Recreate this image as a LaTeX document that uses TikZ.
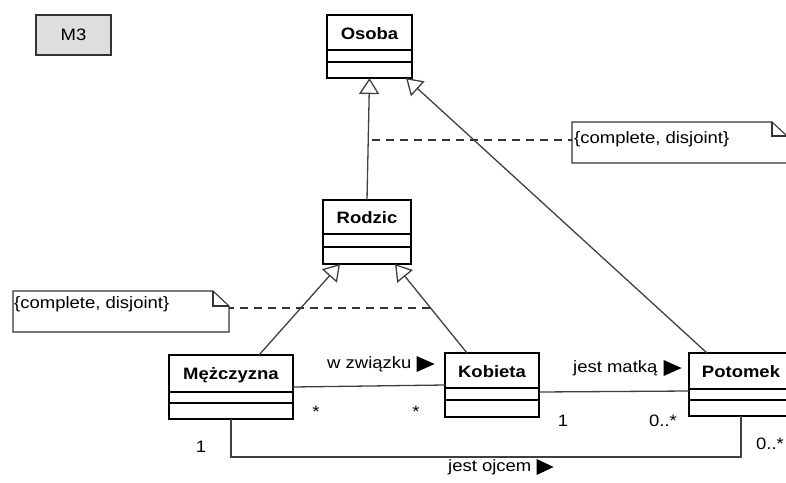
\documentclass[tikz,border=0pt]{standalone}
\usepackage{fontspec}
\setmainfont{Liberation Sans}[FakeStretch=1.12]
\usetikzlibrary{arrows.meta,calc}
\begin{document}
\begin{tikzpicture}[x=1pt,y=-1pt, font=\fontsize{16.5}{18}\selectfont,
 cls/.style={draw, line width=2.6pt, inner sep=0, outer sep=0},
 comp/.style={line width=1.2pt},
 gen/.style={draw=black!75, line width=1.3pt, -{Triangle[open,length=16pt,width=20pt,line width=1.3pt]}},
 assoc/.style={draw=black!75, line width=1.3pt},
 notebox/.style={inner sep=0, outer sep=0},
 noteline/.style={draw=black!80, line width=1.1pt},
 dashline/.style={draw=black!80, line width=1.1pt, dash pattern=on 8pt off 6pt},
 lbl/.style={inner sep=0},
 cname/.style={font=\fontsize{16.5}{18}\selectfont\bfseries, inner sep=0},
 dirtri/.style={fill=black}]
\useasboundingbox (0,0) rectangle (786,482);

% M3 box
\node[draw=black!80, fill=black!13, line width=1.3pt, minimum width=75pt, minimum height=40pt, inner sep=0] (m3) at (73.5,35) {M3};

% classes
\node[cls, minimum width=85pt, minimum height=63pt] (osoba) at (369.5,46.5) {};
\node[cname] (osobaT) at (369.5,34) {Osoba};
\draw[comp] ([yshift=-35pt]osoba.north west) -- ([yshift=-35pt]osoba.north east);
\draw[comp] ([yshift=-47pt]osoba.north west) -- ([yshift=-47pt]osoba.north east);

\node[cls, minimum width=88pt, minimum height=64pt] (rodzic) at (367,232) {};
\node[cname] (rodzicT) at (367,218) {Rodzic};
\draw[comp] ([yshift=-34pt]rodzic.north west) -- ([yshift=-34pt]rodzic.north east);
\draw[comp] ([yshift=-47pt]rodzic.north west) -- ([yshift=-47pt]rodzic.north east);

\node[cls, minimum width=124pt, minimum height=64pt] (mez) at (231,387) {};
\node[cname] (mezT) at (231,375) {Mężczyzna};
\draw[comp] ([yshift=-37pt]mez.north west) -- ([yshift=-37pt]mez.north east);
\draw[comp] ([yshift=-48pt]mez.north west) -- ([yshift=-48pt]mez.north east);

\node[cls, minimum width=94pt, minimum height=64pt] (kob) at (492,385) {};
\node[cname] (kobT) at (492,372) {Kobieta};
\draw[comp] ([yshift=-35pt]kob.north west) -- ([yshift=-35pt]kob.north east);
\draw[comp] ([yshift=-47pt]kob.north west) -- ([yshift=-47pt]kob.north east);

\node[cls, minimum width=104pt, minimum height=63pt] (pot) at (741,384.5) {};
\node[cname] (potT) at (741,372) {Potomek};
\draw[comp] ([yshift=-36pt]pot.north west) -- ([yshift=-36pt]pot.north east);
\draw[comp] ([yshift=-47pt]pot.north west) -- ([yshift=-47pt]pot.north east);

% generalizations
\draw[gen] (rodzic.north) -- (osoba.south);
\draw[gen] ([xshift=-34pt]pot.north) -- ([xshift=36.5pt]osoba.south);
\draw[gen] ([xshift=28pt]mez.north) -- ([xshift=-27pt]rodzic.south);
\draw[gen] ([xshift=-25pt]kob.north) -- ([xshift=28pt]rodzic.south);

% notes
\node[notebox, minimum width=215pt, minimum height=41pt] (note1) at (679.5,142.5) {};
\draw[noteline] (note1.north west) -- ([xshift=-15pt]note1.north east) -- ([yshift=-14pt]note1.north east) -- (note1.south east) -- (note1.south west) -- cycle;
\draw[noteline] ([xshift=-15pt]note1.north east) -- ([xshift=-15pt,yshift=-14pt]note1.north east) -- ([yshift=-14pt]note1.north east);
\node[lbl, anchor=west] (note1T) at (574,139) {\{complete, disjoint\}};

\node[notebox, minimum width=216pt, minimum height=41pt] (note2) at (121,311.5) {};
\draw[noteline] (note2.north west) -- ([xshift=-16pt]note2.north east) -- ([yshift=-15pt]note2.north east) -- (note2.south east) -- (note2.south west) -- cycle;
\draw[noteline] ([xshift=-16pt]note2.north east) -- ([xshift=-16pt,yshift=-15pt]note2.north east) -- ([yshift=-15pt]note2.north east);
\node[lbl, anchor=west] (note2T) at (14,304) {\{complete, disjoint\}};

\coordinate (d1) at (372,140);
\draw[dashline] (d1) -- (d1 -| note1.west);
\coordinate (d2) at (430,308);
\draw[dashline] (d2) -- (d2 -| note2.east);

% associations
\draw[assoc] (mez.east) -- (kob.west);
\draw[assoc] ([yshift=-7pt]kob.east) -- ([yshift=-6.5pt]pot.west);
\draw[assoc] (mez.south) -- ++(0,38) -| (pot.south);

% association labels
\node[lbl, anchor=west] (lw) at (327,364) {w związku};
\fill[dirtri] ([xshift=5pt]lw.east) ++(0,-8) -- ++(0,16) -- ++(18,-8) -- cycle;
\node[lbl, anchor=west] (lm) at (573,368) {jest matką};
\fill[dirtri] ([xshift=6pt]lm.east) ++(0,-8) -- ++(0,16) -- ++(18,-8) -- cycle;
\node[lbl, anchor=west] (lo) at (448,467) {jest ojcem};
\fill[dirtri] ([xshift=5pt]lo.east) ++(0,-8) -- ++(0,16) -- ++(17,-8) -- cycle;

% multiplicities
\node[lbl] (s1) at (316,412) {*};
\node[lbl] (s2) at (416,412) {*};
\node[lbl] (k1) at (563,421) {1};
\node[lbl] (p1) at (663,421) {0..*};
\node[lbl] (m1) at (201,447) {1};
\node[lbl] (p2) at (770,444) {0..*};
\end{tikzpicture}
\end{document}
